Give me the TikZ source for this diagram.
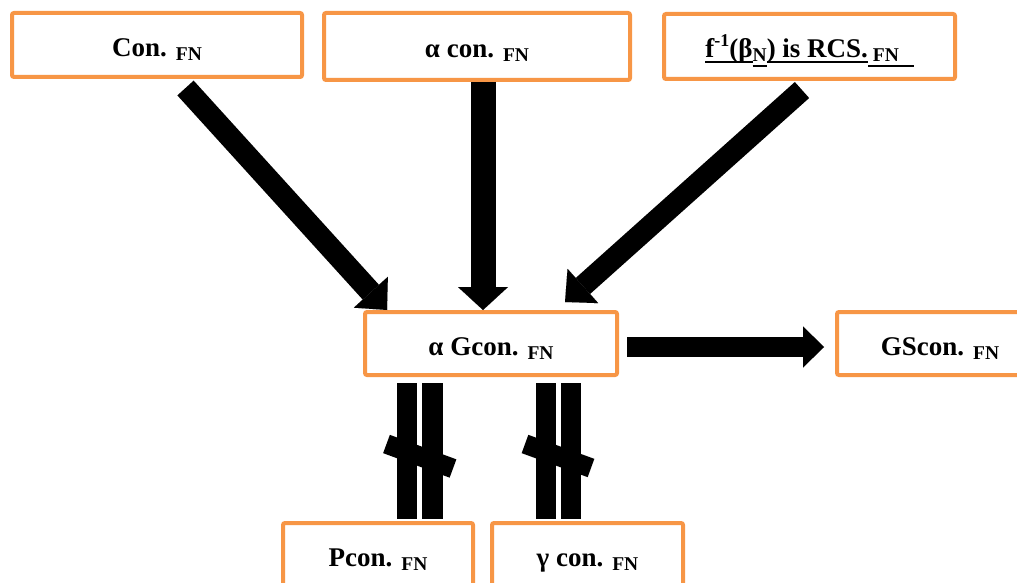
\documentclass[tikz,border=0pt]{standalone}
\usepackage{fontspec}
\setmainfont{Liberation Serif}
\usetikzlibrary{arrows.meta}
\definecolor{boxorange}{RGB}{247,150,70}
\newsavebox\ulsavebox
\newcommand{\ulbox}[1]{\sbox\ulsavebox{#1}\rlap{\rule[-5pt]{\wd\ulsavebox}{2pt}}\usebox\ulsavebox}
\newcommand{\subtx}[1]{\raisebox{-4pt}{\fontsize{19.5}{22}\selectfont #1}}
\newcommand{\suptx}[1]{\raisebox{11pt}{\fontsize{18}{20}\selectfont #1}}
\begin{document}
\begin{tikzpicture}[x=1pt,y=-1pt,
  box/.style={draw=boxorange, line width=4pt, rounded corners=2pt, fill=white,
    inner sep=0pt, outer sep=0pt, text height=23pt, text depth=0pt,
    font={\fontsize{27}{31}\selectfont\bfseries}},
  bigarrow/.style={line width=22pt, -{Triangle[length=24pt,width=46pt,line width=0.01pt]}},
  midarrow/.style={line width=25pt, -{Triangle[length=23pt,width=50pt,line width=0.01pt]}},
  sidearrow/.style={line width=20pt, -{Triangle[length=21pt,width=41pt,line width=0.01pt]}},
  barline/.style={line width=20pt},
  crossbar/.style={line width=19.5pt}]
\useasboundingbox (0,0) rectangle (1017,583);
\clip (0,0) rectangle (1017,583);

\node[box, minimum width=290pt, minimum height=64pt] (con) at (157,45) {Con. \subtx{FN}};
\node[box, minimum width=306pt, minimum height=67pt] (acon) at (477,46.5) {α con. \subtx{FN}};
\node[box, minimum width=291pt, minimum height=65pt] (frcs) at (809.5,46.5)
  {\ulbox{f\suptx{-1}(β}\subtx{\ulbox{N}}\ulbox{) is RCS.}\subtx{\ulbox{\ FN\ \ \ }}};
\node[box, minimum width=252pt, minimum height=63pt] (gcon) at (491,343.5) {α Gcon. \subtx{FN}};
\node[box, minimum width=206pt, minimum height=63pt] (gscon) at (940,343.5) {GScon. \subtx{FN}};
\node[box, minimum width=190pt, minimum height=63pt] (pcon) at (378,554.5) {Pcon. \subtx{FN}};
\node[box, minimum width=191pt, minimum height=63pt] (gamcon) at (587.5,554.5) {γ con. \subtx{FN}};

\draw[bigarrow] ([xshift=28.5pt,yshift=-11pt]con.south) -- ([xshift=22pt,yshift=2pt]gcon.north west);
\draw[midarrow] ([xshift=6pt,yshift=-2pt]acon.south) -- ([xshift=-8pt,yshift=2pt]gcon.north);
\draw[bigarrow, line width=21.5pt] ([xshift=-7.5pt,yshift=-11pt]frcs.south) -- ([xshift=-52pt,yshift=10pt]gcon.north east);
\draw[sidearrow] ([xshift=10pt,yshift=-3.5pt]gcon.east) -- ([xshift=-13pt,yshift=-3.5pt]gscon.west);

\draw[barline] ([xshift=-84pt,yshift=-8pt]gcon.south) -- ([xshift=29pt,yshift=4pt]pcon.north);
\draw[barline, line width=21pt] ([xshift=-58.5pt,yshift=-8pt]gcon.south) -- ([xshift=54.5pt,yshift=4pt]pcon.north);
\draw[barline] ([xshift=55pt,yshift=-8pt]gcon.south) -- ([xshift=-41.5pt,yshift=4pt]gamcon.north);
\draw[barline] ([xshift=80pt,yshift=-8pt]gcon.south) -- ([xshift=-16.5pt,yshift=4pt]gamcon.north);
\draw[crossbar] (386.5,444) -- (453,468.5);
\draw[crossbar] (525,444) -- (591,468);
\end{tikzpicture}
\end{document}
